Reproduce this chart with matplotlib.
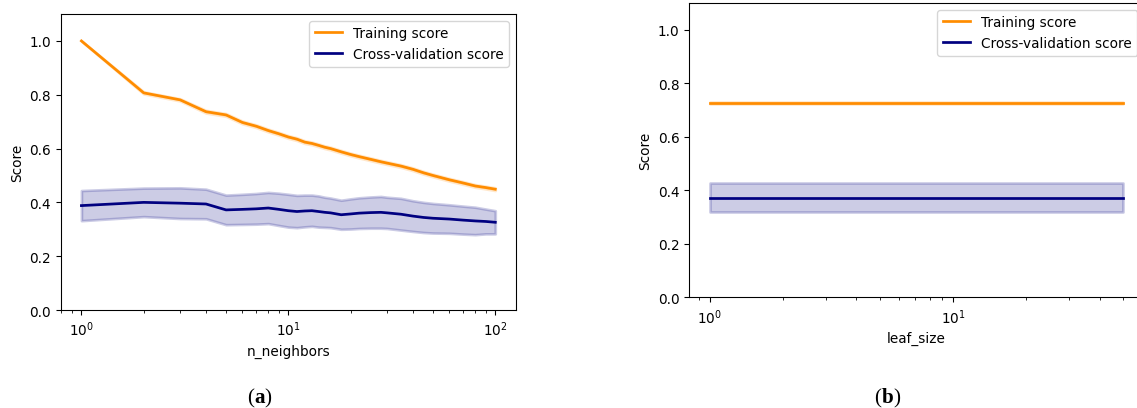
"""
Validation curves for the KNN regressor: score vs n_neighbors (a)
and score vs leaf_size (b), with +/- 1 std bands.
"""

import matplotlib
matplotlib.use('Agg')
import matplotlib.pyplot as plt
import numpy as np

# ---- (a) n_neighbors sweep -------------------------------------------
n_neighbors = [1, 2, 3, 4, 5, 6, 7, 8, 9, 10, 11, 12, 13, 14, 15, 16, 18,
               20, 22, 25, 28, 30, 35, 40, 45, 50, 60, 70, 80, 90, 100]

train_mean_nn = [1.000, 0.807, 0.781, 0.737, 0.725, 0.697, 0.683, 0.667,
                 0.655, 0.643, 0.635, 0.624, 0.619, 0.612, 0.605, 0.600,
                 0.588, 0.578, 0.570, 0.560, 0.551, 0.546, 0.535, 0.523,
                 0.510, 0.500, 0.484, 0.472, 0.461, 0.455, 0.449]
train_std_nn = [0.000, 0.004, 0.004, 0.005, 0.005, 0.005, 0.005, 0.005,
                0.005, 0.005, 0.005, 0.005, 0.005, 0.005, 0.005, 0.005,
                0.005, 0.005, 0.005, 0.005, 0.005, 0.005, 0.005, 0.005,
                0.005, 0.005, 0.005, 0.005, 0.005, 0.005, 0.005]

cv_mean_nn = [0.388, 0.400, 0.397, 0.394, 0.372, 0.374, 0.376, 0.379,
              0.374, 0.369, 0.366, 0.368, 0.369, 0.366, 0.363, 0.361,
              0.354, 0.357, 0.360, 0.362, 0.363, 0.361, 0.356, 0.349,
              0.344, 0.341, 0.338, 0.334, 0.331, 0.329, 0.326]
cv_std_nn = [0.056, 0.053, 0.057, 0.055, 0.055, 0.056, 0.057, 0.058,
             0.060, 0.061, 0.060, 0.059, 0.058, 0.058, 0.056, 0.055,
             0.054, 0.056, 0.057, 0.058, 0.059, 0.058, 0.059, 0.057,
             0.056, 0.055, 0.053, 0.052, 0.051, 0.046, 0.043]

# ---- (b) leaf_size sweep ---------------------------------------------
leaf_sizes = [1, 2, 5, 10, 20, 30, 40, 50]
train_mean_ls = [0.726] * len(leaf_sizes)
train_std_ls = [0.003] * len(leaf_sizes)
cv_mean_ls = [0.373] * len(leaf_sizes)
cv_std_ls = [0.055] * len(leaf_sizes)

DPI = 98
LW = 2


def plot_curve(ax, x, tr_m, tr_s, cv_m, cv_s, xlabel):
    x = np.asarray(x)
    tr_m, tr_s = np.asarray(tr_m), np.asarray(tr_s)
    cv_m, cv_s = np.asarray(cv_m), np.asarray(cv_s)

    ax.semilogx(x, tr_m, label='Training score', color='darkorange', lw=LW)
    ax.fill_between(x, tr_m - tr_s, tr_m + tr_s, alpha=0.2,
                    color='darkorange', lw=LW)
    ax.semilogx(x, cv_m, label='Cross-validation score', color='navy', lw=LW)
    ax.fill_between(x, cv_m - cv_s, cv_m + cv_s, alpha=0.2,
                    color='navy', lw=LW)
    ax.set_ylim(0.0, 1.1)
    ax.set_xlabel(xlabel)
    ax.set_ylabel('Score')
    ax.legend(loc='upper right')


def caption(fig, x, letter):
    # "(a)" with only the letter in bold
    kw = dict(family='Liberation Serif', fontsize=15.5)
    left = fig.text(x, 0.002, '(', ha='left', va='bottom', **kw)
    mid = plt.annotate(letter, xy=(1, 0), xycoords=left, ha='left',
                       va='bottom', fontweight='bold', **kw)
    plt.annotate(')', xy=(1, 0), xycoords=mid, ha='left', va='bottom', **kw)


def main():
    fig = plt.figure(figsize=(1137 / DPI, 409 / DPI), dpi=DPI)
    ax_a = fig.add_axes([0.0534, 0.2396, 0.4004, 0.7237])
    ax_b = fig.add_axes([0.6060, 0.2702, 0.4002, 0.7200])

    plot_curve(ax_a, n_neighbors, train_mean_nn, train_std_nn,
               cv_mean_nn, cv_std_nn, 'n_neighbors')
    plot_curve(ax_b, leaf_sizes, train_mean_ls, train_std_ls,
               cv_mean_ls, cv_std_ls, 'leaf_size')

    caption(fig, 0.2175, 'a')
    caption(fig, 0.7690, 'b')

    fig.savefig('out.png', dpi=DPI)
    plt.close(fig)


if __name__ == '__main__':
    main()
